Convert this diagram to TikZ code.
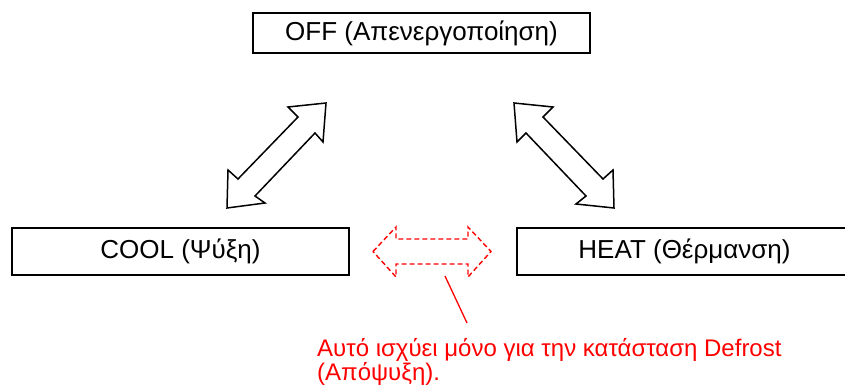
\documentclass[tikz,border=0pt]{standalone}
\usepackage{fontspec}
\setmainfont{Liberation Sans}
\begin{document}
\begin{tikzpicture}[x=1pt,y=-1pt,
  statebox/.style={draw=black,line width=1.3pt,rectangle,inner sep=0pt,
    font=\fontsize{26}{30}\selectfont},
  blockarrow/.style={draw=black,line width=1.5pt,fill=white,line join=miter},
  defrostarrow/.style={draw=red,line width=1.4pt,dash pattern=on 5pt off 3pt},
  note/.style={text=red,inner sep=0pt,font=\fontsize{24}{28}\selectfont}]
\useasboundingbox (0,0) rectangle (845,387);

% operating states
\node[statebox,minimum width=337pt,minimum height=40pt] (off) at (421.5,33) {OFF (Απενεργοποίηση)};
\node[statebox,minimum width=337pt,minimum height=47pt] (cool) at (180.5,251.5) {COOL (Ψύξη)};
\node[statebox,minimum width=335pt,minimum height=47pt] (heat) at (684.5,251.5) {HEAT (Θέρμανση)};

% OFF <-> COOL
\draw[blockarrow] (326,103) -- (288,107) -- (298,117) -- (238,179) -- (228,170)
  -- (227,208) -- (265,203) -- (255,196) -- (315,133) -- (323,142) -- cycle;
% OFF <-> HEAT
\draw[blockarrow] (514,103) -- (553,107) -- (543,117) -- (603,179) -- (613,170)
  -- (614,208) -- (576,204) -- (586,196) -- (526,133) -- (517,142) -- cycle;

% COOL <-> HEAT, defrost only
\draw[defrostarrow] (373,251.5) -- (396,227) -- (396,239) -- (468,239) -- (468,227)
  -- (491,251.5) -- (468,277) -- (468,264) -- (396,264) -- (396,277) -- cycle;
\coordinate (defrost) at (445,276);

% note
\node[note,anchor=base west] (note1) at (317,356) {Αυτό ισχύει μόνο για την κατάσταση Defrost};
\node[note,anchor=base west] (note2) at (317,380) {(Απόψυξη).};
\draw[red,line width=1.3pt] (defrost) -- (467,323);
\end{tikzpicture}
\end{document}
